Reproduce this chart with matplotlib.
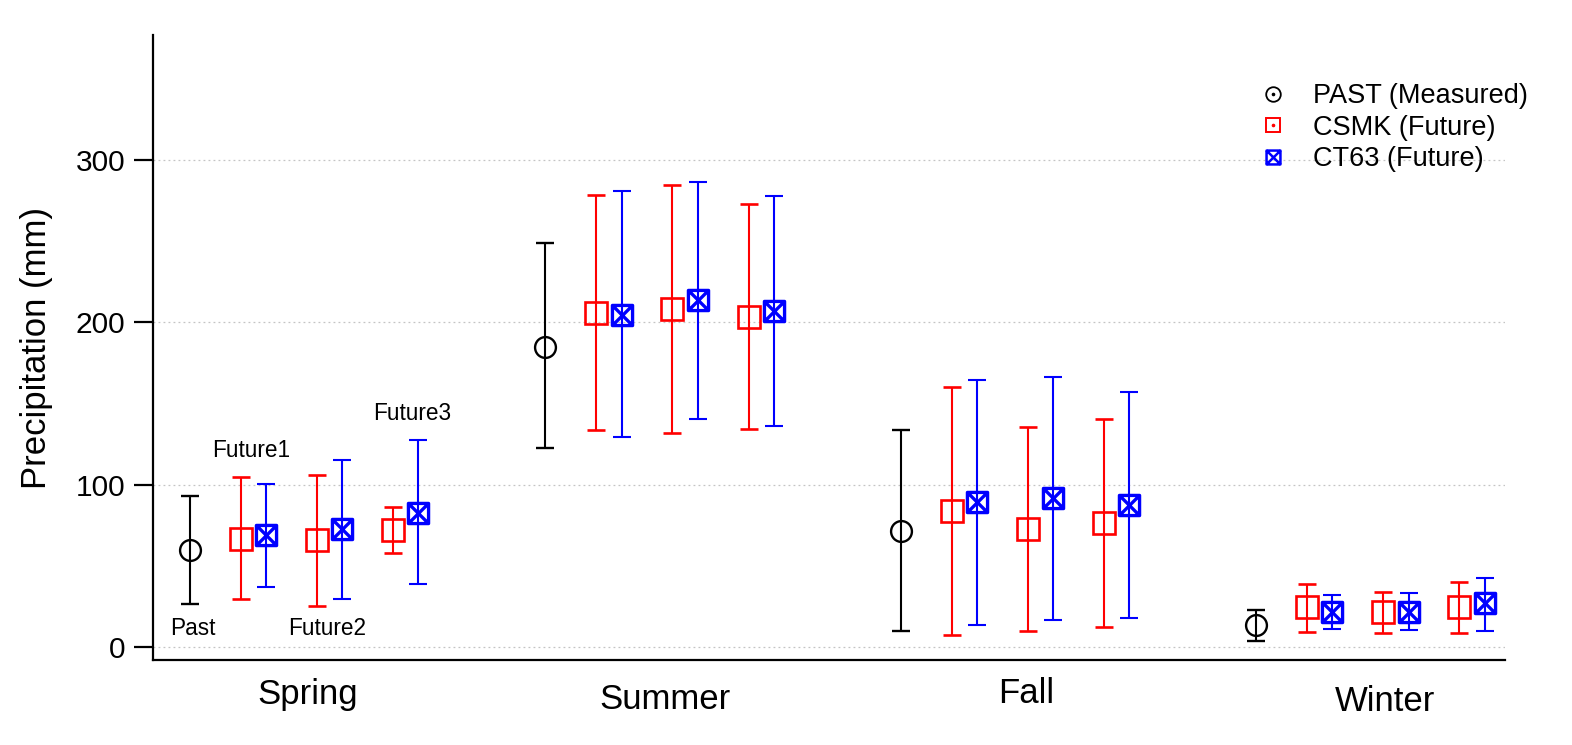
import numpy as np
import matplotlib
matplotlib.use("Agg")
import matplotlib.pyplot as plt
from matplotlib.path import Path
from matplotlib.lines import Line2D
from matplotlib.legend_handler import HandlerTuple

plt.rcParams['font.family'] = ['Liberation Sans', 'DejaVu Sans']

seasons = ["Spring", "Summer", "Fall", "Winter"]
periods = ["Past", "Future1", "Future2", "Future3"]

# Past (measured): mean, upper, lower per season
past_mean = [60, 184.6, 71.5, 13.6]
past_hi = [93, 248.7, 133.7, 22.8]
past_lo = [26.5, 122.6, 9.9, 3.7]

# CSMK (future) per season x [Future1, Future2, Future3]
csmk_mean = [[66.4, 66, 72], [206, 208.3, 203.5], [83.8, 72.7, 76.4], [24.4, 21.8, 24.8]]
csmk_hi = [[105, 106, 86.5], [278.5, 284.6, 273], [160, 135.5, 140.5], [38.6, 33.7, 40.3]]
csmk_lo = [[29.4, 25, 57.7], [133.7, 131.7, 134], [7.4, 9.9, 12.3], [9.5, 8.8, 8.8]]

# CT63 (future)
ct63_mean = [[68.8, 72.5, 82.8], [204.6, 213.8, 207.2], [89.3, 91.8, 87.5], [21.8, 21.8, 27.3]]
ct63_hi = [[100.4, 115, 127.5], [281, 286.7, 278], [164.5, 166.4, 157], [32, 33, 42.3]]
ct63_lo = [[37, 29.8, 38.8], [129.2, 140.5, 136.4], [13.6, 16.6, 17.9], [11.1, 10.5, 9.9]]

legend_labels = ["PAST (Measured)", "CSMK (Future)", "CT63 (Future)"]
yticks = [0, 100, 200, 300]

RED = "#ff0000"
BLUE = "#0000ff"

# square with X marker path
verts = [(-1, -1), (1, -1), (1, 1), (-1, 1), (-1, -1),
         (-1, -1), (1, 1), (-1, 1), (1, -1)]
codes = [Path.MOVETO, Path.LINETO, Path.LINETO, Path.LINETO, Path.CLOSEPOLY,
         Path.MOVETO, Path.LINETO, Path.MOVETO, Path.LINETO]
boxx = Path(verts, codes)

fig = plt.figure(figsize=(15.72, 7.45), dpi=100)
ax = fig.add_axes([0.0973, 0.1141, 0.8601, 0.8389])

spacing = 7.0
red_off = [1.0, 2.5, 4.0]
blue_off = [1.5, 3.0, 4.5]
cap = 6.5
lw = 1.5

for i in range(len(seasons)):
    base = i * spacing
    ax.errorbar([base], [past_mean[i]],
                yerr=[[past_mean[i] - past_lo[i]], [past_hi[i] - past_mean[i]]],
                fmt='o', ms=15, mfc='none', mec='black', mew=1.7,
                ecolor='black', elinewidth=lw, capsize=cap, capthick=lw, zorder=3)
    for j in range(3):
        m = csmk_mean[i][j]
        ax.errorbar([base + red_off[j]], [m],
                    yerr=[[m - csmk_lo[i][j]], [csmk_hi[i][j] - m]],
                    fmt='s', ms=15.5, mfc='none', mec=RED, mew=1.9,
                    ecolor=RED, elinewidth=lw, capsize=cap, capthick=lw, zorder=3)
        m = ct63_mean[i][j]
        ax.errorbar([base + blue_off[j]], [m],
                    yerr=[[m - ct63_lo[i][j]], [ct63_hi[i][j] - m]],
                    fmt='none', ecolor=BLUE, elinewidth=lw, capsize=cap, capthick=lw, zorder=3)
        ax.plot([base + blue_off[j]], [m], linestyle='none', marker=boxx, ms=14.5,
                mfc='none', mec=BLUE, mew=2.4, zorder=4)

ax.set_xlim(-0.73, 25.9)
ax.set_ylim(-8, 377)
ax.set_yticks(yticks)
ax.set_yticklabels([str(t) for t in yticks], fontsize=21.5)
ax.set_xticks([])
ax.yaxis.grid(True, linestyle=(0, (1.5, 2.5)), color='#c4c4c4', linewidth=0.9)
ax.set_axisbelow(True)
for s in ['top', 'right']:
    ax.spines[s].set_visible(False)
for s in ['left', 'bottom']:
    ax.spines[s].set_linewidth(1.6)
ax.tick_params(axis='y', length=14, width=1.6, direction='out', pad=6)
ax.set_ylabel("Precipitation (mm)", fontsize=25, labelpad=16)

# season labels
season_x = [2.31, 9.35, 16.47, 23.53]
season_y = [-0.056, -0.064, -0.053, -0.067]
for sx, sy, name in zip(season_x, season_y, seasons):
    ax.text(sx, sy, name, transform=ax.get_xaxis_transform(), fontsize=25,
            ha='center', va='center')

# period annotations (Spring group)
ann_pos = [(0.06, 11.7), (1.2, 120.8), (2.7, 11.7), (4.38, 144)]
for (ax_, ay_), t in zip(ann_pos, periods):
    ax.text(ax_, ay_, t, fontsize=16.3, ha='center', va='center')

# legend
h_past = (Line2D([], [], ls='none', marker='o', ms=10.5, mfc='none', mec='black', mew=1.3),
          Line2D([], [], ls='none', marker='o', ms=1.6, mfc='black', mec='black'))
h_csmk = (Line2D([], [], ls='none', marker='s', ms=10.5, mfc='none', mec=RED, mew=1.4),
          Line2D([], [], ls='none', marker='o', ms=1.6, mfc=RED, mec=RED))
h_ct63 = Line2D([], [], ls='none', marker=boxx, ms=10, mfc='none', mec=BLUE, mew=1.8)
leg = ax.legend([h_past, h_csmk, h_ct63], legend_labels,
                handler_map={tuple: HandlerTuple(ndivide=1, pad=0)},
                loc='upper right', bbox_to_anchor=(1.025, 0.94), frameon=False,
                fontsize=19.5, handlelength=1.0, handletextpad=1.0, labelspacing=0.2,
                borderaxespad=0)

fig.savefig("out.png", dpi=100)
